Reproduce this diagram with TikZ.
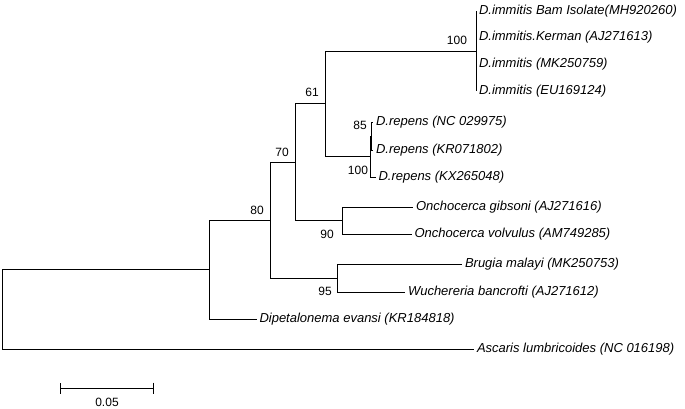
\documentclass[tikz,border=0pt]{standalone}
\usepackage{fontspec}
\setmainfont{Liberation Sans}
\usetikzlibrary{arrows.meta}

\begin{document}
\begin{tikzpicture}[x=1pt,y=-1pt,line width=1pt,
  leaf/.style={anchor=west,inner sep=2.5pt,font=\fontsize{13}{15}\selectfont\itshape},
  boot/.style={inner sep=0pt,font=\fontsize{12}{14}\selectfont}]
\useasboundingbox (0,0) rectangle (685,408);
% taxa
\node[leaf] (imm1) at (476,11){D.immitis Bam Isolate(MH920260)};
\node[leaf] (imm2) at (476,37){D.immitis.Kerman (AJ271613)};
\node[leaf] (imm3) at (476,64){D.immitis (MK250759)};
\node[leaf] (imm4) at (476,91){D.immitis (EU169124)};
\node[leaf] (rep1) at (373,122){D.repens (NC 029975)};
\node[leaf] (rep2) at (373,150){D.repens (KR071802)};
\node[leaf] (rep3) at (375.5,177){D.repens (KX265048)};
\node[leaf] (onc1) at (413,207){Onchocerca gibsoni (AJ271616)};
\node[leaf] (onc2) at (411.5,234){Onchocerca volvulus (AM749285)};
\node[leaf] (bru) at (462,264){Brugia malayi (MK250753)};
\node[leaf] (wuc) at (405,292){Wuchereria bancrofti (AJ271612)};
\node[leaf] (dip) at (256.5,319){Dipetalonema evansi (KR184818)};
\node[leaf] (asc) at (474,349){Ascaris lumbricoides (NC 016198)};
% inner nodes
\coordinate (nimm) at (476,51);\coordinate (n85) at (371.5,136);\coordinate (nrep) at (370,156.5);
\coordinate (n61) at (325,103.75);\coordinate (nonc) at (342,220.5);\coordinate (n70) at (295,162);
\coordinate (n95) at (337,278);\coordinate (n80) at (270,220);\coordinate (nin) at (209,269.5);
\coordinate (root) at (2,309);
% branches
\foreach \c in {imm1,imm2,imm3,imm4}{\draw (nimm) |- (\c.west);}
\draw (n85) |- (rep1.west) (n85) |- (rep2.west);\draw (nrep) |- (n85) (nrep) |- (rep3.west);
\draw (n61) |- (nimm) (n61) |- (nrep);
\draw (nonc) |- (onc1.west) (nonc) |- (onc2.west);
\draw (n70) |- (n61) (n70) |- (nonc);
\draw (n95) |- (bru.west) (n95) |- (wuc.west);
\draw (n80) |- (n70) (n80) |- (n95);
\draw (nin) |- (n80) (nin) |- (dip.west);
\draw (root) |- (nin) (root) |- (asc.west);
% bootstrap values
\node[boot] (bimm) at (457,40){100};\node[boot] (b85) at (360,125){85};\node[boot] (brep) at (358,170){100};
\node[boot] (b61) at (312,92){61};\node[boot] (b70) at (282,152){70};\node[boot] (b80) at (257,210){80};
\node[boot] (b90) at (327,234){90};\node[boot] (b95) at (325,291){95};
% scale bar
\coordinate (sbl) at (60,388);\coordinate (sbr) at (154,388);
\draw[{Bar[width=11pt]}-{Bar[width=11pt]}] (sbl)--(sbr);
\node[boot] (sbtxt) at (107,402){0.05};
\end{tikzpicture}
\end{document}
